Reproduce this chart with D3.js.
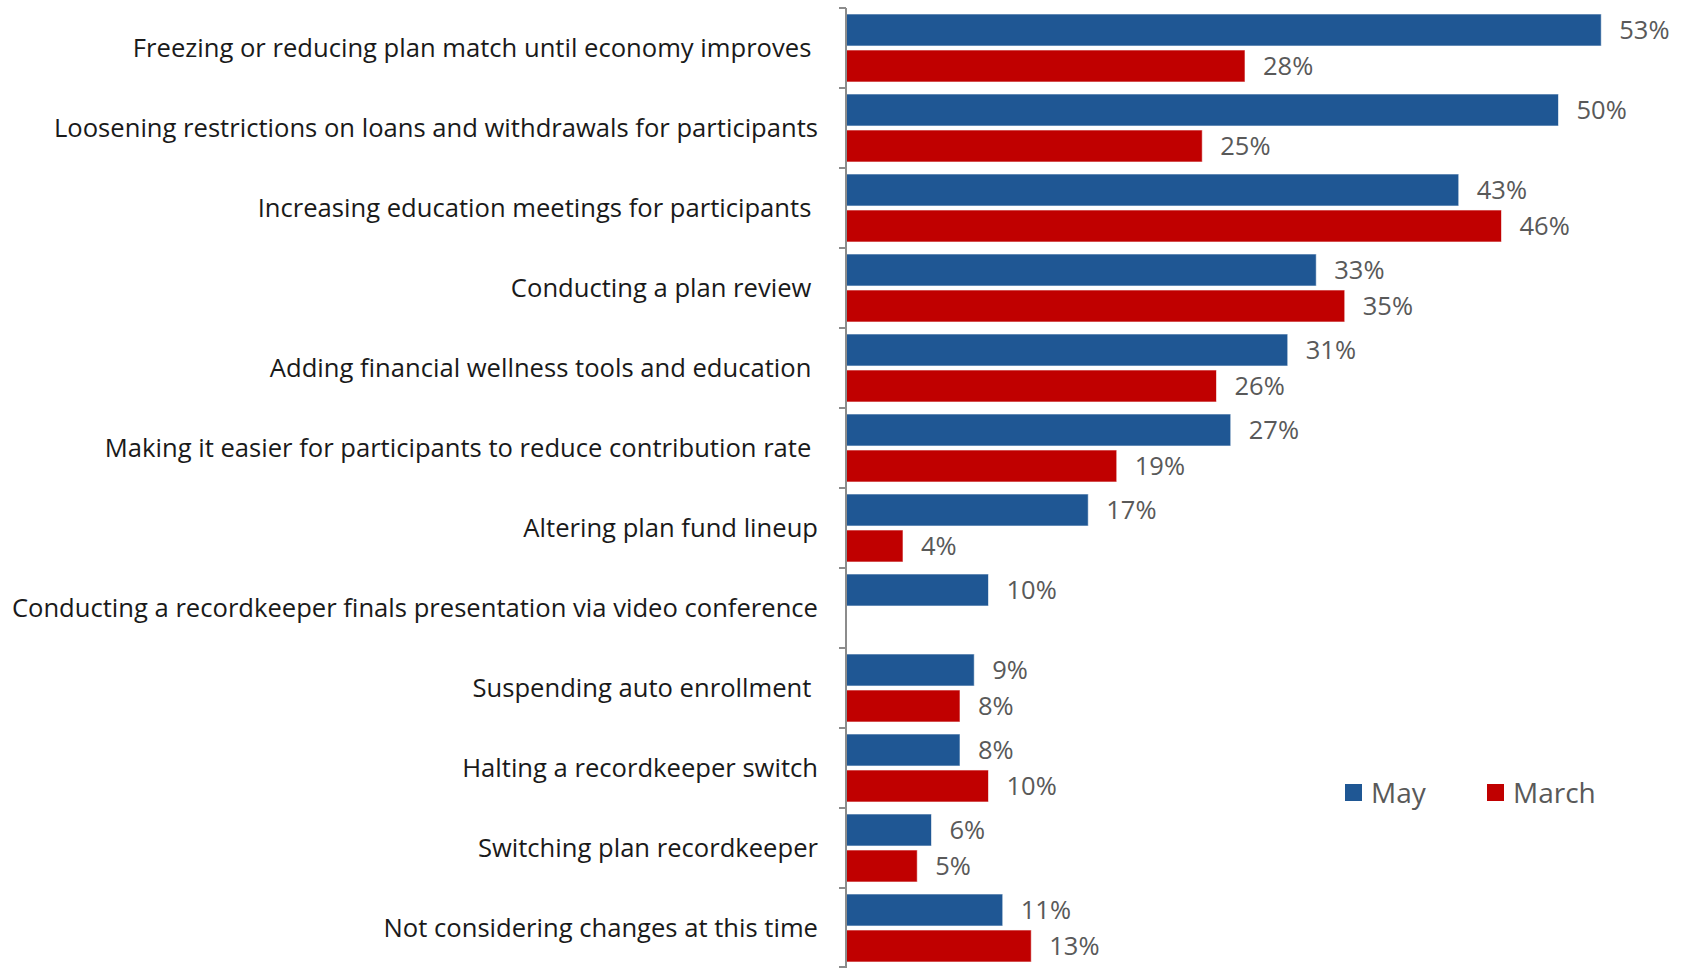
<!DOCTYPE html>
<html>
  <head>
    <meta charset="utf-8" />
    <script src="https://d3js.org/d3.v7.min.js"></script>
    <style>
      body { margin: 0; background: #fff; }
      .cat { font-family: "Open Sans", sans-serif; font-size: 25.6px; fill: #1a1a1a; white-space: pre; }
      .val { font-family: "Open Sans", sans-serif; font-size: 25.5px; fill: #595959; }
      .leg { font-family: "Open Sans", sans-serif; font-size: 28px; fill: #595959; }
    </style>
  </head>
  <body>

    <svg id="chart" width="1690" height="968"></svg>

    <script>

      var svg = d3.select("#chart");

      // categories, top to bottom (trailing spaces are in the source labels)
      var categories = [
        "Freezing or reducing plan match until economy improves ",
        "Loosening restrictions on loans and withdrawals for participants",
        "Increasing education meetings for participants ",
        "Conducting a plan review ",
        "Adding financial wellness tools and education ",
        "Making it easier for participants to reduce contribution rate ",
        "Altering plan fund lineup",
        "Conducting a recordkeeper finals presentation via video conference",
        "Suspending auto enrollment ",
        "Halting a recordkeeper switch",
        "Switching plan recordkeeper",
        "Not considering changes at this time"
      ];

      var series = ["May", "March"];
      var mayValues = [53, 50, 43, 33, 31, 27, 17, 10, 9, 8, 6, 11];
      var marchValues = [28, 25, 46, 35, 26, 19, 4, null, 8, 10, 5, 13];

      var colors = { "May": "#1f5794", "March": "#c00000" };

      var axisX = 846;
      var y = d3.scaleBand()
        .domain(categories)
        .range([8, 968]);

      var ySub = d3.scaleBand()
        .domain(series)
        .range([0, y.bandwidth()])
        .paddingInner(0.111)
        .paddingOuter(0.1667);

      var x = d3.scaleLinear()
        .domain([0, 55])
        .range([axisX, axisX + 55 * 14.25]);

      var rows = [];
      categories.forEach(function(c, i) {
        rows.push({ cat: c, key: "May", value: mayValues[i] });
        rows.push({ cat: c, key: "March", value: marchValues[i] });
      });
      rows = rows.filter(function(d) { return d.value != null; });

      // bars
      svg.selectAll(".bar")
        .data(rows)
        .enter().append("rect")
        .attr("class", "bar")
        .attr("x", x(0))
        .attr("y", function(d) { return y(d.cat) + ySub(d.key); })
        .attr("width", function(d) { return x(d.value) - x(0); })
        .attr("height", ySub.bandwidth())
        .attr("fill", function(d) { return colors[d.key]; })
        .attr("stroke", "#ffffff")
        .attr("stroke-opacity", 0.6)
        .attr("stroke-width", 1);

      // value labels
      svg.selectAll(".val")
        .data(rows)
        .enter().append("text")
        .attr("class", "val")
        .attr("x", function(d) { return x(d.value) + 18; })
        .attr("y", function(d) { return y(d.cat) + ySub(d.key) + ySub.bandwidth() / 2; })
        .attr("dy", "0.36em")
        .text(function(d) { return d.value + "%"; });

      // category axis
      var axis = svg.append("g")
        .attr("transform", "translate(" + axisX + ",0)");

      axis.append("line")
        .attr("x1", 0).attr("x2", 0)
        .attr("y1", 8).attr("y2", 968)
        .attr("stroke", "#8c8c8c")
        .attr("stroke-width", 2);

      var tickYs = categories.map(function(c) { return y(c); }).concat([967]);
      axis.selectAll(".tick")
        .data(tickYs)
        .enter().append("line")
        .attr("x1", -7).attr("x2", 0)
        .attr("y1", function(d) { return d; })
        .attr("y2", function(d) { return d; })
        .attr("stroke", "#8c8c8c")
        .attr("stroke-width", 2);

      svg.selectAll(".cat")
        .data(categories)
        .enter().append("text")
        .attr("class", "cat")
        .attr("x", 818)
        .attr("y", function(d) { return y(d) + y.bandwidth() / 2; })
        .attr("dy", "0.35em")
        .attr("text-anchor", "end")
        .text(function(d) { return d; });

      // legend
      var legendX = [1345, 1487];
      var legend = svg.selectAll(".legend")
        .data(series)
        .enter().append("g")
        .attr("class", "legend")
        .attr("transform", function(d, i) { return "translate(" + legendX[i] + ",784)"; });

      legend.append("rect")
        .attr("width", 17)
        .attr("height", 17)
        .attr("fill", function(d) { return colors[d]; });

      legend.append("text")
        .attr("class", "leg")
        .attr("x", 26)
        .attr("y", 9)
        .attr("dy", "0.35em")
        .text(function(d) { return d; });

    </script>

  </body>
</html>
